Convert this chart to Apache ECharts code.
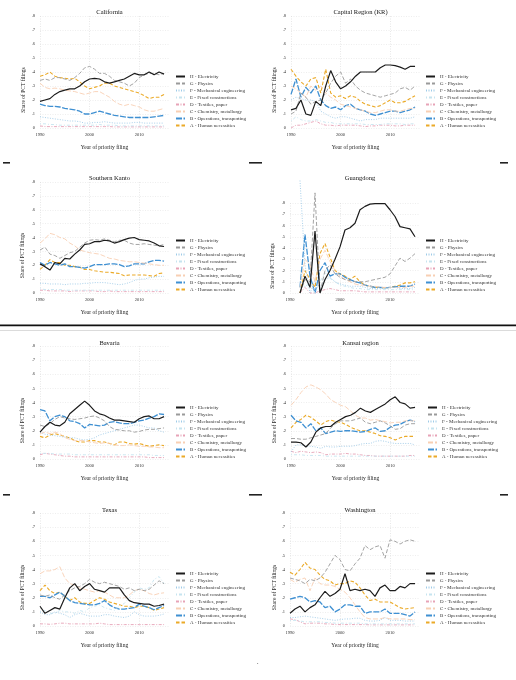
<!DOCTYPE html>
<html><head><meta charset="utf-8">
<script src="https://cdn.jsdelivr.net/npm/echarts@6/dist/echarts.min.js"></script>
<style>html,body{margin:0;padding:0;background:#fff}#c{width:516px;height:680px}</style>
</head><body><div id="c"></div>
<script>
const years = [1990,1991,1992,1993,1994,1995,1996,1997,1998,1999,2000,2001,2002,2003,2004,2005,2006,2007,2008,2009,2010,2011,2012,2013,2014,2015];
const seriesNames = ['H - Electricity','G - Physics','F - Mechanical engineering','E - Fixed constructions','D - Textiles, paper','C - Chemistry, metallurgy','B - Operations, transporting','A - Human necessities'];
const regionNames = ['California','Capital Region (KR)','Southern Kanto','Guangdong','Bavaria','Kansai region','Texas','Washington'];
const yTickLabels = ['0','.1','.2','.3','.4','.5','.6','.7','.8'];
const xTickLabels = ['1990','2000','2010'];

// California
const caliH = [0.19,0.20,0.21,0.24,0.26,0.27,0.28,0.28,0.30,0.33,0.35,0.355,0.35,0.33,0.32,0.33,0.34,0.35,0.37,0.39,0.38,0.38,0.40,0.38,0.40,0.385];
const caliG = [0.34,0.35,0.34,0.36,0.36,0.35,0.34,0.36,0.39,0.43,0.44,0.42,0.39,0.39,0.37,0.34,0.33,0.32,0.30,0.32,0.36,0.38,0.39,0.39,0.38,0.39];
const caliF = [0.08,0.075,0.07,0.065,0.06,0.055,0.05,0.05,0.045,0.035,0.035,0.04,0.04,0.045,0.04,0.035,0.035,0.035,0.035,0.04,0.04,0.035,0.035,0.035,0.035,0.035];
const caliE = [0.03,0.03,0.025,0.025,0.02,0.02,0.02,0.02,0.02,0.02,0.02,0.02,0.025,0.02,0.02,0.02,0.015,0.015,0.015,0.015,0.015,0.015,0.015,0.015,0.015,0.015];
const caliD = [0.015,0.01,0.01,0.01,0.01,0.01,0.01,0.01,0.01,0.01,0.01,0.01,0.01,0.01,0.01,0.008,0.008,0.008,0.008,0.008,0.008,0.008,0.008,0.008,0.008,0.008];
const caliC = [0.32,0.29,0.28,0.285,0.28,0.27,0.265,0.26,0.25,0.24,0.25,0.26,0.26,0.24,0.22,0.19,0.17,0.16,0.17,0.16,0.15,0.13,0.12,0.12,0.13,0.14];
const caliB = [0.17,0.16,0.155,0.155,0.15,0.14,0.135,0.13,0.12,0.10,0.10,0.11,0.12,0.11,0.10,0.09,0.085,0.08,0.075,0.075,0.075,0.075,0.075,0.08,0.085,0.09];
const caliA = [0.37,0.38,0.40,0.37,0.36,0.355,0.35,0.355,0.33,0.30,0.28,0.29,0.30,0.32,0.32,0.30,0.29,0.28,0.27,0.26,0.25,0.23,0.21,0.22,0.22,0.24];

// Capital Region (KR)
const capH = [0.13,0.14,0.20,0.10,0.09,0.19,0.16,0.30,0.41,0.33,0.28,0.30,0.33,0.37,0.40,0.40,0.40,0.40,0.43,0.45,0.45,0.445,0.435,0.42,0.44,0.44];
const capG = [0.10,0.12,0.25,0.22,0.17,0.19,0.20,0.25,0.32,0.37,0.40,0.32,0.35,0.30,0.27,0.25,0.24,0.23,0.22,0.23,0.24,0.25,0.28,0.29,0.27,0.30];
const capF = [0.20,0.22,0.21,0.20,0.20,0.19,0.12,0.10,0.08,0.07,0.08,0.08,0.07,0.06,0.05,0.06,0.06,0.06,0.07,0.07,0.07,0.07,0.07,0.07,0.07,0.08];
const capE = [0.05,0.08,0.06,0.05,0.05,0.06,0.05,0.04,0.04,0.03,0.03,0.03,0.03,0.03,0.03,0.025,0.025,0.025,0.025,0.03,0.03,0.03,0.03,0.025,0.03,0.03];
const capD = [0.0,0.02,0.02,0.03,0.04,0.05,0.03,0.02,0.02,0.015,0.02,0.02,0.02,0.02,0.015,0.01,0.015,0.015,0.02,0.02,0.02,0.015,0.015,0.02,0.02,0.02];
const capC = [0.30,0.28,0.25,0.22,0.30,0.27,0.30,0.25,0.22,0.20,0.17,0.16,0.15,0.14,0.13,0.12,0.11,0.11,0.12,0.13,0.13,0.12,0.12,0.13,0.14,0.14];
const capB = [0.24,0.35,0.22,0.29,0.25,0.30,0.20,0.16,0.14,0.15,0.13,0.16,0.17,0.14,0.13,0.12,0.10,0.09,0.10,0.11,0.12,0.12,0.11,0.12,0.13,0.15];
const capA = [0.42,0.37,0.33,0.30,0.35,0.36,0.25,0.42,0.25,0.22,0.23,0.21,0.23,0.22,0.19,0.17,0.16,0.15,0.16,0.18,0.20,0.18,0.18,0.19,0.21,0.23];

// Southern Kanto
const kantoH = [0.21,0.19,0.165,0.22,0.21,0.25,0.245,0.28,0.31,0.35,0.355,0.37,0.37,0.38,0.375,0.36,0.37,0.385,0.395,0.40,0.385,0.38,0.375,0.36,0.34,0.335];
const kantoG = [0.31,0.33,0.28,0.27,0.25,0.27,0.29,0.30,0.33,0.36,0.38,0.385,0.38,0.39,0.38,0.37,0.38,0.38,0.36,0.35,0.35,0.355,0.35,0.345,0.34,0.35];
const kantoF = [0.07,0.07,0.065,0.065,0.065,0.06,0.065,0.065,0.065,0.07,0.07,0.075,0.075,0.075,0.07,0.065,0.06,0.065,0.075,0.09,0.10,0.10,0.11,0.115,0.12,0.12];
const kantoE = [0.03,0.025,0.025,0.025,0.025,0.02,0.02,0.02,0.02,0.02,0.02,0.02,0.02,0.02,0.02,0.02,0.02,0.02,0.02,0.02,0.02,0.02,0.02,0.02,0.02,0.02];
const kantoD = [0.02,0.02,0.015,0.015,0.015,0.015,0.01,0.015,0.015,0.015,0.015,0.015,0.01,0.01,0.015,0.01,0.01,0.01,0.01,0.01,0.01,0.01,0.01,0.01,0.01,0.01];
const kantoC = [0.36,0.39,0.43,0.42,0.40,0.39,0.36,0.34,0.31,0.30,0.29,0.285,0.28,0.265,0.25,0.245,0.235,0.23,0.225,0.225,0.22,0.215,0.21,0.205,0.20,0.20];
const kantoB = [0.22,0.20,0.22,0.21,0.20,0.21,0.19,0.19,0.185,0.18,0.19,0.205,0.205,0.205,0.21,0.21,0.205,0.19,0.195,0.21,0.21,0.21,0.225,0.235,0.235,0.23];
const kantoA = [0.17,0.20,0.24,0.22,0.22,0.20,0.20,0.19,0.185,0.17,0.17,0.16,0.155,0.15,0.15,0.145,0.14,0.125,0.13,0.13,0.13,0.13,0.125,0.12,0.14,0.145];

// Guangdong
const guangH = [null,null,0.0,0.15,0.05,0.55,0.0,0.12,0.20,0.30,0.41,0.56,0.58,0.62,0.74,0.77,0.79,0.795,0.795,0.795,0.74,0.68,0.59,0.58,0.57,0.50];
const guangG = [null,null,0.0,0.12,0.10,0.89,0.0,0.20,0.25,0.17,0.14,0.12,0.11,0.10,0.10,0.10,0.11,0.12,0.13,0.14,0.17,0.24,0.31,0.28,0.31,0.35];
const guangF = [null,null,1.0,0.25,0.0,0.10,0.05,0.12,0.14,0.10,0.08,0.07,0.06,0.06,0.06,0.05,0.04,0.04,0.04,0.04,0.05,0.05,0.04,0.04,0.04,0.05];
const guangE = [null,null,0.20,0.05,0.10,0.0,0.10,0.18,0.13,0.10,0.07,0.06,0.05,0.04,0.04,0.03,0.03,0.03,0.03,0.03,0.03,0.03,0.03,0.03,0.03,0.03];
const guangD = [null,null,0.0,0.05,0.0,0.0,0.02,0.03,0.04,0.03,0.02,0.02,0.02,0.02,0.015,0.01,0.01,0.01,0.01,0.01,0.01,0.01,0.01,0.01,0.01,0.01];
const guangC = [null,null,0.05,0.30,0.25,0.10,0.30,0.38,0.28,0.20,0.15,0.12,0.10,0.08,0.07,0.07,0.06,0.06,0.05,0.05,0.05,0.05,0.05,0.05,0.06,0.06];
const guangB = [null,null,0.05,0.52,0.15,0.0,0.20,0.27,0.15,0.17,0.17,0.14,0.12,0.10,0.09,0.07,0.06,0.05,0.05,0.045,0.05,0.055,0.06,0.06,0.06,0.08];
const guangA = [null,null,0.0,0.20,0.12,0.05,0.35,0.44,0.32,0.20,0.17,0.15,0.12,0.15,0.10,0.07,0.06,0.05,0.05,0.045,0.05,0.06,0.07,0.09,0.09,0.10];

// Bavaria
const bavH = [0.19,0.23,0.26,0.24,0.235,0.26,0.32,0.35,0.38,0.41,0.38,0.34,0.32,0.31,0.29,0.275,0.275,0.27,0.265,0.26,0.285,0.30,0.305,0.285,0.285,0.30];
const bavG = [0.24,0.23,0.25,0.28,0.30,0.29,0.285,0.28,0.285,0.29,0.30,0.305,0.29,0.27,0.23,0.21,0.205,0.20,0.20,0.19,0.195,0.205,0.21,0.21,0.215,0.22];
const bavF = [0.19,0.175,0.17,0.165,0.16,0.155,0.15,0.15,0.14,0.135,0.14,0.15,0.17,0.18,0.19,0.20,0.21,0.22,0.23,0.24,0.24,0.23,0.22,0.22,0.20,0.19];
const bavE = [0.04,0.04,0.04,0.035,0.035,0.035,0.035,0.03,0.03,0.03,0.03,0.03,0.03,0.03,0.03,0.03,0.03,0.03,0.03,0.03,0.03,0.03,0.03,0.025,0.025,0.025];
const bavD = [0.03,0.04,0.035,0.03,0.025,0.02,0.02,0.015,0.015,0.015,0.015,0.015,0.015,0.015,0.015,0.015,0.015,0.015,0.015,0.015,0.015,0.015,0.01,0.01,0.01,0.01];
const bavC = [0.18,0.19,0.18,0.19,0.18,0.15,0.14,0.13,0.13,0.13,0.12,0.115,0.11,0.115,0.11,0.10,0.095,0.095,0.10,0.095,0.09,0.09,0.085,0.085,0.08,0.08];
const bavB = [0.35,0.34,0.27,0.30,0.31,0.30,0.27,0.265,0.25,0.22,0.245,0.24,0.235,0.24,0.26,0.265,0.255,0.25,0.25,0.26,0.27,0.275,0.29,0.30,0.32,0.315];
const bavA = [0.16,0.15,0.17,0.18,0.17,0.16,0.15,0.13,0.12,0.12,0.13,0.13,0.12,0.12,0.11,0.10,0.12,0.12,0.11,0.105,0.11,0.10,0.09,0.095,0.10,0.095];

// Kansai region
const kansH = [0.12,0.12,0.115,0.085,0.12,0.19,0.22,0.23,0.23,0.26,0.28,0.30,0.31,0.33,0.36,0.34,0.33,0.35,0.37,0.39,0.42,0.44,0.40,0.39,0.36,0.365];
const kansG = [0.145,0.145,0.14,0.14,0.15,0.16,0.17,0.18,0.22,0.25,0.27,0.27,0.27,0.28,0.29,0.26,0.25,0.26,0.27,0.255,0.235,0.21,0.215,0.24,0.25,0.25];
const kansF = [0.05,0.10,0.10,0.09,0.09,0.085,0.075,0.09,0.085,0.085,0.09,0.09,0.09,0.095,0.105,0.11,0.11,0.125,0.13,0.125,0.115,0.11,0.11,0.11,0.11,0.10];
const kansE = [0.03,0.03,0.03,0.025,0.025,0.025,0.025,0.02,0.02,0.02,0.02,0.02,0.02,0.02,0.02,0.02,0.02,0.02,0.02,0.02,0.02,0.02,0.02,0.02,0.02,0.02];
const kansD = [0.055,0.045,0.055,0.05,0.045,0.05,0.045,0.03,0.035,0.035,0.035,0.04,0.035,0.035,0.03,0.025,0.025,0.02,0.02,0.02,0.02,0.02,0.02,0.02,0.025,0.025];
const kansC = [0.38,0.42,0.47,0.51,0.525,0.51,0.49,0.46,0.42,0.40,0.38,0.37,0.34,0.31,0.29,0.29,0.275,0.28,0.27,0.265,0.255,0.26,0.26,0.27,0.27,0.27];
const kansB = [0.31,0.27,0.26,0.22,0.25,0.20,0.22,0.18,0.19,0.20,0.195,0.20,0.20,0.195,0.19,0.195,0.21,0.22,0.195,0.20,0.225,0.24,0.245,0.265,0.275,0.265];
const kansA = [0.22,0.26,0.28,0.31,0.295,0.27,0.24,0.265,0.275,0.265,0.26,0.245,0.225,0.21,0.20,0.20,0.19,0.18,0.165,0.16,0.15,0.135,0.15,0.16,0.16,0.16];

// Texas
const texH = [0.14,0.09,0.11,0.13,0.12,0.20,0.27,0.30,0.25,0.28,0.30,0.26,0.25,0.24,0.27,0.27,0.27,0.22,0.18,0.165,0.16,0.155,0.155,0.14,0.145,0.155];
const texG = [0.22,0.21,0.22,0.20,0.19,0.22,0.25,0.27,0.28,0.30,0.33,0.31,0.30,0.31,0.30,0.29,0.28,0.26,0.27,0.25,0.26,0.25,0.26,0.29,0.32,0.30];
const texF = [0.10,0.08,0.08,0.10,0.09,0.08,0.06,0.08,0.09,0.08,0.07,0.07,0.07,0.08,0.08,0.07,0.065,0.06,0.07,0.10,0.08,0.07,0.07,0.07,0.075,0.085];
const texE = [0.10,0.11,0.09,0.09,0.11,0.10,0.10,0.09,0.11,0.10,0.13,0.14,0.15,0.13,0.12,0.11,0.14,0.16,0.20,0.24,0.27,0.26,0.27,0.33,0.35,0.30];
const texD = [0.015,0.015,0.012,0.015,0.02,0.02,0.015,0.015,0.015,0.015,0.015,0.015,0.02,0.015,0.01,0.01,0.01,0.01,0.01,0.01,0.01,0.01,0.01,0.01,0.01,0.01];
const texC = [0.37,0.39,0.39,0.40,0.42,0.34,0.30,0.29,0.27,0.26,0.25,0.24,0.25,0.24,0.22,0.20,0.20,0.20,0.22,0.25,0.26,0.25,0.23,0.22,0.23,0.235];
const texB = [0.21,0.21,0.20,0.22,0.24,0.21,0.18,0.165,0.16,0.155,0.15,0.15,0.16,0.18,0.15,0.13,0.12,0.12,0.125,0.13,0.155,0.14,0.13,0.115,0.13,0.145];
const texA = [0.25,0.29,0.25,0.23,0.24,0.21,0.18,0.20,0.17,0.16,0.16,0.18,0.20,0.19,0.17,0.16,0.15,0.14,0.14,0.13,0.14,0.14,0.13,0.11,0.12,0.13];

// Washington
const washH = [0.09,0.12,0.14,0.10,0.13,0.15,0.20,0.245,0.21,0.23,0.26,0.37,0.25,0.26,0.25,0.26,0.25,0.21,0.27,0.29,0.25,0.25,0.28,0.27,0.30,0.30];
const washG = [0.34,0.33,0.32,0.30,0.33,0.32,0.34,0.38,0.44,0.50,0.47,0.40,0.39,0.44,0.48,0.57,0.54,0.56,0.57,0.48,0.61,0.60,0.58,0.60,0.61,0.60];
const washF = [0.06,0.06,0.065,0.07,0.065,0.06,0.055,0.05,0.045,0.04,0.045,0.05,0.05,0.055,0.055,0.04,0.035,0.035,0.04,0.06,0.04,0.04,0.04,0.035,0.035,0.035];
const washE = [0.04,0.04,0.035,0.03,0.03,0.03,0.03,0.025,0.025,0.02,0.02,0.02,0.02,0.02,0.02,0.015,0.015,0.015,0.015,0.015,0.015,0.015,0.015,0.015,0.015,0.015];
const washD = [0.05,0.045,0.03,0.015,0.02,0.02,0.02,0.015,0.015,0.01,0.01,0.01,0.01,0.01,0.01,0.01,0.008,0.008,0.008,0.008,0.008,0.008,0.008,0.008,0.008,0.008];
const washC = [0.33,0.31,0.33,0.34,0.25,0.34,0.30,0.29,0.29,0.28,0.26,0.24,0.20,0.15,0.10,0.06,0.05,0.05,0.05,0.06,0.05,0.05,0.05,0.05,0.045,0.045];
const washB = [0.19,0.20,0.21,0.20,0.17,0.18,0.17,0.13,0.14,0.10,0.12,0.15,0.15,0.14,0.14,0.09,0.10,0.10,0.10,0.12,0.09,0.09,0.09,0.08,0.07,0.10];
const washA = [0.38,0.36,0.40,0.45,0.41,0.40,0.36,0.33,0.32,0.29,0.30,0.30,0.32,0.31,0.27,0.22,0.18,0.19,0.17,0.17,0.17,0.15,0.13,0.12,0.125,0.13];

const regionData = [
  [caliH,caliG,caliF,caliE,caliD,caliC,caliB,caliA],
  [capH,capG,capF,capE,capD,capC,capB,capA],
  [kantoH,kantoG,kantoF,kantoE,kantoD,kantoC,kantoB,kantoA],
  [guangH,guangG,guangF,guangE,guangD,guangC,guangB,guangA],
  [bavH,bavG,bavF,bavE,bavD,bavC,bavB,bavA],
  [kansH,kansG,kansF,kansE,kansD,kansC,kansB,kansA],
  [texH,texG,texF,texE,texD,texC,texB,texA],
  [washH,washG,washF,washE,washD,washC,washB,washA]
];

// ---- styles & layout ----
const FONT = 'Liberation Serif';
const lineStyles = [
  {color:'#1c1c1c', width:1.2, type:'solid'},
  {color:'#9a9a9a', width:0.9, type:[4,2]},
  {color:'#9fcbe8', width:0.9, type:[1,1.5]},
  {color:'#c6e4ef', width:0.9, type:[1,2,3,2]},
  {color:'#e7a3b7', width:0.9, type:[3,1.5,1,1.5]},
  {color:'#f8cfb3', width:0.9, type:[5,2]},
  {color:'#3f90d2', width:1.3, type:[6,1.5]},
  {color:'#ebaa28', width:1.1, type:[3.5,2]}
];
const layout = [
  {left:40, top:16, height:112, width:129, lx:175, ly:74, tx:24},
  {left:291, top:16, height:112, width:129, lx:425, ly:74, tx:275},
  {left:40, top:182, height:111, width:129, lx:175, ly:238, tx:23},
  {left:290, top:203, height:90, width:130, lx:425, ly:238, tx:273},
  {left:40, top:346, height:113, width:129, lx:175, ly:405, tx:23},
  {left:291, top:346, height:113, width:129, lx:427, ly:405, tx:275},
  {left:40, top:513, height:113, width:129, lx:175, ly:571, tx:23},
  {left:290, top:513, height:113, width:130, lx:425, ly:571, tx:275}
];
const titleTops = [4, 4, 170, 170, 335, 335, 502, 502];

const option = {
  backgroundColor:'#fff',
  animation:false,
  title:[], grid:[], xAxis:[], yAxis:[], series:[], legend:[], graphic:[]
};

regionNames.forEach((name, i) => {
  const L = layout[i];
  option.grid.push({left:L.left, top:L.top, width:L.width, height:L.height, containLabel:false});
  option.title.push({text:name, left:L.left + L.width/2, top:titleTops[i], textAlign:'center',
    textStyle:{fontFamily:FONT, fontSize:6.5, fontWeight:'normal', color:'#111'}});
  option.xAxis.push({type:'value', gridIndex:i, min:1990, max:2016, interval:10,
    name:'Year of priority filing', nameLocation:'middle', nameGap:17,
    nameTextStyle:{fontFamily:FONT, fontSize:5.5, color:'#222'},
    axisLine:{show:false}, axisTick:{show:false},
    axisLabel:{fontFamily:FONT, fontSize:4.5, color:'#333', margin:4, showMaxLabel:false,
      formatter:v => (xTickLabels.indexOf(String(v))>=0 ? String(v) : '')},
    splitLine:{show:true, showMaxLine:false, lineStyle:{color:'#d8d8d8', width:0.6, type:[1,1.5]}}
  });
  option.yAxis.push({type:'value', gridIndex:i, min:0, max:0.8, interval:0.1,
    axisLine:{show:false}, axisTick:{show:false},
    axisLabel:{fontFamily:FONT, fontSize:4.5, color:'#333', margin:5,
      formatter:v => yTickLabels[Math.round(v*10)]},
    splitLine:{show:true, lineStyle:{color:'#e2e2e2', width:0.6, type:[1,1.5]}}
  });
  const cy = L.top + L.height/2 + 18;
  option.graphic.push({type:'text', x:L.tx, y:cy, rotation:Math.PI/2,
    style:{text:'Share of PCT filings', fontFamily:FONT, fontSize:5.5, fill:'#222', align:'center', verticalAlign:'middle'}});
  option.legend.push({orient:'vertical', left:L.lx, top:L.ly, padding:0, itemGap:2,
    itemWidth:9, itemHeight:5, data:seriesNames, selectedMode:false,
    itemStyle:{opacity:0, borderWidth:0},
    textStyle:{fontFamily:FONT, fontSize:5, color:'#333', lineHeight:5}});
  // draw A first, H last (H on top)
  for (let k = seriesNames.length - 1; k >= 0; k--) {
    const vals = regionData[i][k];
    option.series.push({type:'line', name:seriesNames[k], xAxisIndex:i, yAxisIndex:i,
      data: years.map((y, j) => [y, vals[j]]), symbol:'none', clip:false,
      connectNulls:false, lineStyle:lineStyles[k], itemStyle:{color:lineStyles[k].color}, z:2});
  }
});

// decorative separators from the source layout
const dash = (x,y,w) => ({type:'rect', shape:{x:x, y:y, width:w, height:1.6}, style:{fill:'#222'}});
option.graphic.push(dash(3,162,7), dash(249,162,13), dash(500,162,8));
option.graphic.push(dash(3,494,7), dash(249,494,13), dash(500,494,8));
option.graphic.push({type:'rect', shape:{x:0, y:324.5, width:516, height:1.8}, style:{fill:'#111'}});
option.graphic.push({type:'rect', shape:{x:0, y:330, width:516, height:0.8}, style:{fill:'#cfcfcf'}});
option.graphic.push({type:'text', x:257, y:659, style:{text:'.', fontFamily:FONT, fontSize:6, fill:'#222'}});

const chart = echarts.init(document.getElementById('c'), null, {renderer:'canvas'});
chart.setOption(option);
</script>
</body></html>
